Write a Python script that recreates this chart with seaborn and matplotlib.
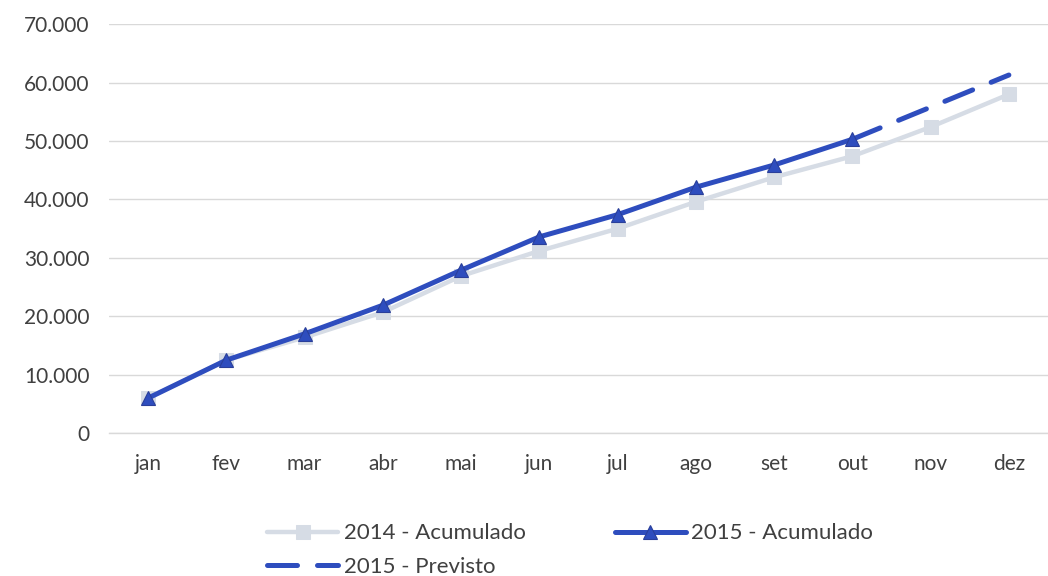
import numpy as np
import pandas as pd
import seaborn as sns
import matplotlib.pyplot as plt
from matplotlib.ticker import FuncFormatter, MultipleLocator

# Data
meses = ['jan', 'fev', 'mar', 'abr', 'mai', 'jun', 'jul', 'ago', 'set', 'out', 'nov', 'dez']
acum_2014 = [6000, 12500, 16400, 20700, 26900, 31200, 35000, 39600, 43800, 47400, 52400, 58000]
acum_2015 = [6000, 12500, 17000, 21900, 27900, 33600, 37400, 42100, 45900, 50300]
prev_2015_meses = ['out', 'nov', 'dez']
prev_2015 = [50300, 55800, 61300]

cor_2014 = '#D6DCE5'
cor_2015 = '#2E4DBE'

sns.set_theme(style='white')
plt.rcParams['font.family'] = ['Lato', 'DejaVu Sans']

df14 = pd.DataFrame({'x': np.arange(len(acum_2014)), 'y': acum_2014})
df15 = pd.DataFrame({'x': np.arange(len(acum_2015)), 'y': acum_2015})
dfp = pd.DataFrame({'x': [meses.index(m) for m in prev_2015_meses], 'y': prev_2015})

fig, ax = plt.subplots(figsize=(10.48, 5.76), dpi=100)
fig.subplots_adjust(left=0.104, right=1.0, top=0.958, bottom=0.248)

sns.lineplot(data=df14, x='x', y='y', ax=ax, color=cor_2014, lw=3.2,
             marker='s', markersize=10.5, markeredgecolor=cor_2014,
             label='2014 - Acumulado', zorder=2)
sns.lineplot(data=dfp, x='x', y='y', ax=ax, color=cor_2015, lw=3.6,
             dashes=False, label='2015 - Previsto', zorder=3)
ax.lines[-1].set_dashes([6, 4])
ax.lines[-1].set_dash_capstyle('round')
sns.lineplot(data=df15, x='x', y='y', ax=ax, color=cor_2015, lw=3.6,
             marker='^', markersize=10.5, markeredgecolor='#2A3F9A',
             markeredgewidth=0.8, label='2015 - Acumulado', zorder=4)

ax.set_xlim(-0.5, len(meses) - 0.5)
ax.set_ylim(0, 70000)
ax.yaxis.set_major_locator(MultipleLocator(10000))
ax.yaxis.set_major_formatter(FuncFormatter(lambda v, p: f'{int(v):,}'.replace(',', '.')))
ax.set_xticks(np.arange(len(meses)))
ax.set_xticklabels(meses)
ax.set_xticks(np.arange(-0.5, len(meses)), minor=True)
ax.tick_params(axis='x', which='major', length=0, pad=15, labelsize=15, labelcolor='#404040')
ax.tick_params(axis='x', which='minor', length=8, color='#D9D9D9', width=1)
ax.tick_params(axis='y', length=0, pad=14, labelsize=15, labelcolor='#404040')
ax.set_xlabel('')
ax.set_ylabel('')

ax.grid(axis='y', color='#D9D9D9', lw=1)
for s in ['top', 'right', 'left']:
    ax.spines[s].set_visible(False)
ax.spines['bottom'].set_color('#D9D9D9')
ax.spines['bottom'].set_linewidth(1)
ax.set_axisbelow(True)

h, l = ax.get_legend_handles_labels()
ax.get_legend().remove()
order = [l.index('2014 - Acumulado'), l.index('2015 - Previsto'), l.index('2015 - Acumulado')]
fig.legend([h[i] for i in order], [l[i] for i in order], loc='lower left',
           bbox_to_anchor=(0.236, -0.036), ncol=2, frameon=False, fontsize=16,
           handlelength=3.2, columnspacing=4.0, handletextpad=0.25, labelspacing=0.6,
           labelcolor='#404040')

fig.savefig('out.png', dpi=100, facecolor='white')
